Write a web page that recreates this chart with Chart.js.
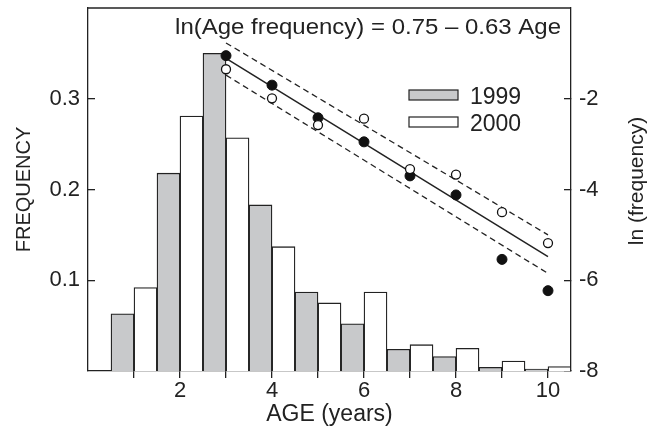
<!DOCTYPE html>
<html>
<head>
<meta charset="utf-8">
<script src="https://cdn.jsdelivr.net/npm/chart.js@4/dist/chart.umd.min.js"></script>
<style>
  html, body { margin: 0; padding: 0; background: #fff; }
  #wrap { width: 655px; height: 429px; }
</style>
</head>
<body>
<div id="wrap"><canvas id="ageChart"></canvas></div>
<script>
// data
const ages = [1, 2, 3, 4, 5, 6, 7, 8, 9, 10];
const freq1999 = [0.063, 0.218, 0.350, 0.183, 0.087, 0.052, 0.024, 0.016, 0.004, 0.002];
const freq2000 = [0.092, 0.281, 0.257, 0.137, 0.075, 0.087, 0.029, 0.025, 0.011, 0.005];

const lnAges = [3, 4, 5, 6, 7, 8, 9, 10];
const ln1999 = [-1.05, -1.70, -2.42, -2.95, -3.70, -4.12, -5.54, -6.23];
const ln2000 = [-1.35, -1.99, -2.58, -2.44, -3.55, -3.67, -4.50, -5.18];

// regression and its band, end points
const fitAges = [3, 10];
const fitLine = [-1.11, -5.48];
const fitUpper = [-0.77, -5.00];
const fitLower = [-1.48, -5.85];

const xTicks = [1, 2, 3, 4, 5, 6, 7, 8, 9, 10];
const leftTicks = [0.1, 0.2, 0.3];
const rightTicks = [-8, -6, -4, -2];

const equationText = 'ln(Age frequency) = 0.75 \u2013 0.63 Age';
const rightTitle = 'ln (frequency)';

const FONT = '"Liberation Sans", Arial, sans-serif';
const INK = '#222';
const GREY = '#c8c9cb';

const pts = (xs, ys, shift) => xs.map((x, i) => ({ x: x + shift, y: ys[i] }));

// box top edge, equation, legend and the right axis title (reads bottom to top)
const decorPlugin = {
    id: 'decor',
    afterDatasetsDraw(chart) {
        const { ctx, chartArea: a } = chart;
        ctx.save();
        ctx.strokeStyle = INK;
        ctx.lineWidth = 1.3;
        ctx.beginPath();
        ctx.moveTo(a.left, a.top);
        ctx.lineTo(a.right, a.top);
        ctx.stroke();

        // equation, a bit wider than the font as in the figure
        ctx.fillStyle = INK;
        ctx.font = '22px ' + FONT;
        ctx.textAlign = 'right';
        ctx.textBaseline = 'alphabetic';
        ctx.save();
        ctx.translate(a.right - 10, a.top + 26);
        ctx.scale(1.09, 1);
        ctx.fillText(equationText, 0, 0);
        ctx.restore();

        // legend
        const items = [chart.data.datasets[0], chart.data.datasets[1]];
        ctx.font = '23px ' + FONT;
        ctx.textAlign = 'left';
        items.forEach((ds, i) => {
            const by = a.top + 82 + i * 27;
            ctx.fillStyle = ds.backgroundColor;
            ctx.fillRect(a.left + 321, by, 49, 10);
            ctx.strokeStyle = INK;
            ctx.lineWidth = 1.2;
            ctx.strokeRect(a.left + 321, by, 49, 10);
            ctx.fillStyle = INK;
            ctx.fillText(ds.label, a.left + 382, by + 13.5);
        });

        ctx.save();
        ctx.font = '21px ' + FONT;
        ctx.textAlign = 'center';
        ctx.textBaseline = 'middle';
        ctx.translate(a.right + 66, 181);
        ctx.rotate(-Math.PI / 2);
        ctx.fillText(rightTitle, 0, 0);
        ctx.restore();
        ctx.restore();
    }
};

const ctx = document.getElementById('ageChart').getContext('2d');
new Chart(ctx, {
    type: 'bar',
    data: {
        datasets: [
            {
                label: '1999',
                data: pts(ages, freq1999, -0.25),
                backgroundColor: GREY,
                borderColor: INK,
                borderWidth: 1.3,
                grouped: false,
                barPercentage: 1,
                categoryPercentage: 1,
                order: 5
            },
            {
                label: '2000',
                data: pts(ages, freq2000, 0.25),
                backgroundColor: '#ffffff',
                borderColor: INK,
                borderWidth: 1.3,
                grouped: false,
                barPercentage: 1,
                categoryPercentage: 1,
                order: 5
            },
            {
                type: 'line',
                label: 'fit',
                data: pts(fitAges, fitLine, 0),
                yAxisID: 'y2',
                borderColor: INK,
                borderWidth: 1.5,
                pointRadius: 0,
                order: 3
            },
            {
                type: 'line',
                label: 'upper',
                data: pts(fitAges, fitUpper, 0),
                yAxisID: 'y2',
                borderColor: INK,
                borderWidth: 1.3,
                borderDash: [6, 4],
                pointRadius: 0,
                order: 3
            },
            {
                type: 'line',
                label: 'lower',
                data: pts(fitAges, fitLower, 0),
                yAxisID: 'y2',
                borderColor: INK,
                borderWidth: 1.3,
                borderDash: [6, 4],
                pointRadius: 0,
                order: 3
            },
            {
                type: 'scatter',
                label: 'ln 1999',
                data: pts(lnAges, ln1999, 0),
                yAxisID: 'y2',
                pointRadius: 5,
                pointBackgroundColor: '#111',
                pointBorderColor: '#111',
                pointBorderWidth: 1,
                order: 2
            },
            {
                type: 'scatter',
                label: 'ln 2000',
                data: pts(lnAges, ln2000, 0),
                yAxisID: 'y2',
                pointRadius: 4.5,
                pointBackgroundColor: '#fff',
                pointBorderColor: '#111',
                pointBorderWidth: 1.3,
                order: 1
            }
        ]
    },
    options: {
        responsive: true,
        maintainAspectRatio: false,
        animation: false,
        layout: { padding: { top: 8, left: 0, right: 0, bottom: 0 } },
        plugins: {
            legend: { display: false },
            tooltip: { enabled: false }
        },
        scales: {
            x: {
                type: 'linear',
                min: 0,
                max: 10.5,
                offset: false,
                afterBuildTicks: s => { s.ticks = xTicks.map(v => ({ value: v })); },
                afterFit: s => { s.height = 58; s.paddingLeft = 0; s.paddingRight = 0; },
                grid: { offset: false, drawOnChartArea: false, tickLength: 7, color: INK, lineWidth: 1.3 },
                border: { color: INK, width: 1.3 },
                ticks: {
                    autoSkip: false,
                    maxRotation: 0,
                    padding: 0,
                    color: INK,
                    font: { family: FONT, size: 22 },
                    callback: v => (v % 2 === 0 ? String(v) : '')
                },
                title: {
                    display: true,
                    text: 'AGE (years)',
                    color: INK,
                    font: { family: FONT, size: 23 },
                    padding: { top: 0, bottom: 1 }
                }
            },
            y: {
                position: 'left',
                min: 0,
                max: 0.4,
                afterBuildTicks: s => { s.ticks = leftTicks.map(v => ({ value: v })); },
                afterFit: s => { s.width = 88; s.paddingTop = 0; s.paddingBottom = 0; },
                grid: { drawOnChartArea: false, tickLength: -7, color: INK, lineWidth: 1.3 },
                border: { color: INK, width: 1.3 },
                ticks: {
                    padding: 15,
                    color: INK,
                    font: { family: FONT, size: 22 },
                    callback: v => v.toFixed(1)
                },
                title: {
                    display: true,
                    text: 'FREQUENCY',
                    color: INK,
                    font: { family: FONT, size: 20 },
                    padding: { top: 12, bottom: 0 }
                }
            },
            y2: {
                position: 'right',
                min: -8,
                max: 0,
                afterBuildTicks: s => { s.ticks = rightTicks.map(v => ({ value: v })); },
                afterFit: s => { s.width = 84; s.paddingTop = 0; s.paddingBottom = 0; },
                grid: { drawOnChartArea: false, tickLength: -7, color: INK, lineWidth: 1.3 },
                border: { color: INK, width: 1.3 },
                ticks: {
                    padding: 15,
                    color: INK,
                    font: { family: FONT, size: 22 },
                    callback: v => String(v)
                },
                title: { display: false }
            }
        }
    },
    plugins: [decorPlugin]
});
</script>
</body>
</html>
